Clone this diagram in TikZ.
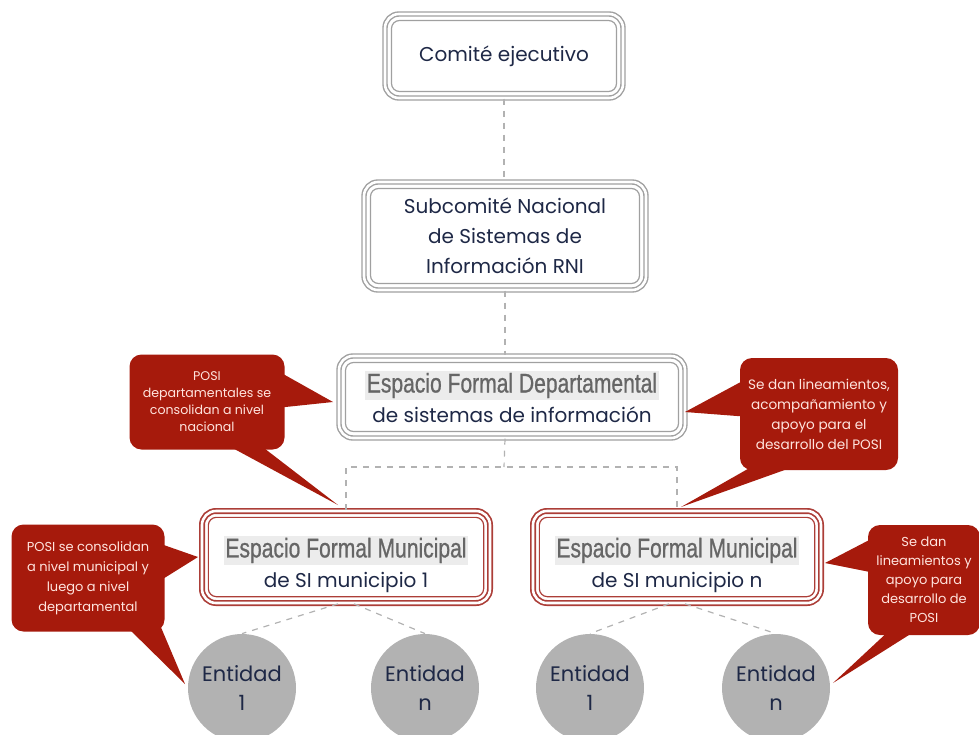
\documentclass[tikz,border=0pt]{standalone}
\usepackage{fontspec}
\setmainfont{Poppins}
\newfontfamily\angosta[FakeStretch=0.78,FakeBold=0.8]{Liberation Sans}
\definecolor{rojo}{RGB}{166,26,12}
\definecolor{rojomarco}{RGB}{172,62,56}
\definecolor{marcogris}{RGB}{160,160,160}
\definecolor{tinta}{RGB}{30,40,70}
\definecolor{textorosa}{RGB}{255,228,222}
\definecolor{grisclaro}{RGB}{236,236,236}
\newcommand{\titulo}[1]{{\setlength{\fboxsep}{0.8pt}\colorbox{grisclaro}{\angosta\fontsize{13.5}{13.5}\selectfont\color{gray!80!black}#1}}}

\begin{document}
\begin{tikzpicture}
[x=0.5pt,y=-0.5pt,
grayBox/.style={draw=marcogris,double=white,double distance=1.3pt,line width=0.7pt,
rounded corners=7pt,align=center,text=tinta,inner sep=0pt,
font=\fontsize{10}{15}\selectfont},
redBox/.style={grayBox,draw=rojomarco,line width=0.85pt},
callOut/.style={fill=rojo,rounded corners=6pt,text=textorosa,align=center,inner sep=0pt},
entBall/.style={circle,fill=gray!60,minimum size=54pt,inner sep=0pt,align=center,
text=tinta,font=\fontsize{10.5}{14.5}\selectfont},
link/.style={draw=gray!60,dashed,line width=0.6pt}]
  \useasboundingbox (0,0) rectangle (979,734);
  % boxes
  \node[grayBox,minimum width=119pt,minimum height=42pt] (comite) at (504,56) {Comité ejecutivo};
  \node[grayBox,minimum width=141pt,minimum height=54pt] (subcomite) at (505,236)
    {Subcomité Nacional\\de Sistemas de\\Información RNI};
  \node[grayBox,minimum width=173pt,minimum height=41pt] (depto) at (512,397)
    {\titulo{Espacio Formal Departamental}\\de sistemas de información};
  \node[redBox,minimum width=144pt,minimum height=46pt] (muniA) at (346,557)
    {\rule{0pt}{18pt}\titulo{Espacio Formal Municipal}\\de SI municipio 1};
  \node[redBox,minimum width=144pt,minimum height=46pt] (muniN) at (677,557)
    {\rule{0pt}{18pt}\titulo{Espacio Formal Municipal}\\de SI municipio n};
  \foreach \n/\c in {comite/marcogris,subcomite/marcogris,depto/marcogris,muniA/rojomarco,muniN/rojomarco}
    \draw[draw=\c,line width=0.6pt,rounded corners=4pt]
      ([xshift=3.6pt,yshift=-3.6pt]\n.north west) rectangle ([xshift=-3.6pt,yshift=3.6pt]\n.south east);
  % entidades
  \node[entBall] (entA1) at (242,688) {Entidad\\1};
  \node[entBall] (entAn) at (425,688) {Entidad\\n};
  \node[entBall] (entN1) at (590,688) {Entidad\\1};
  \node[entBall] (entNn) at (776,688) {Entidad\\n};
  % dashed links
  \coordinate (split) at (504,467);
  \draw[link] (comite.south) -- (comite.south |- subcomite.north);
  \draw[link] (subcomite.south) -- (subcomite.south |- depto.north);
  \draw[link] (subcomite.south |- depto.south) -- (split);
  \draw[link] (muniA.north) |- (split) -| (muniN.north);
  \draw[link] ([xshift=-4pt]muniA.south) -- (entA1.north);
  \draw[link] ([xshift=4pt]muniA.south) -- (entAn.north);
  \draw[link] ([xshift=-4pt]muniN.south) -- (entN1.north);
  \draw[link] ([xshift=4pt]muniN.south) -- (entNn.north);
  % callouts
  \coordinate (tipA) at (333,402);
  \coordinate (tipB) at (338,505);
  \coordinate (tipC) at (685,412);
  \coordinate (tipD) at (681,507);
  \coordinate (tipE) at (198,557);
  \coordinate (tipF) at (185,684);
  \coordinate (tipG) at (825,563);
  \coordinate (tipH) at (833,683);
  \fill[rojo] (276,370) -- (tipA) -- (276,408) -- cycle;
  \fill[rojo] (227,445) -- (tipB) -- (260,445) -- cycle;
  \fill[rojo] (750,377) -- (tipC) -- (750,417) -- cycle;
  \fill[rojo] (760,462) -- (tipD) -- (807,462) -- cycle;
  \fill[rojo] (158,543) -- (tipE) -- (158,582) -- cycle;
  \fill[rojo] (125,625) -- (tipF) -- (160,625) -- cycle;
  \fill[rojo] (875,537) -- (tipG) -- (875,573) -- cycle;
  \fill[rojo] (892,628) -- (tipH) -- (920,628) -- cycle;
  \node[callOut,minimum width=77.5pt,minimum height=47.5pt,font=\fontsize{6.3}{8.5}\selectfont]
    (posiDep) at (207,402) {POSI\\departamentales se\\consolidan a nivel\\nacional};
  \node[callOut,minimum width=79pt,minimum height=56pt,font=\fontsize{6.8}{10}\selectfont]
    (lineaDep) at (819,414) {Se dan lineamientos,\\acompañamiento y\\apoyo para el\\desarrollo del POSI};
  \node[callOut,minimum width=76.5pt,minimum height=53.5pt,font=\fontsize{6.5}{10}\selectfont]
    (posiMun) at (88,578) {POSI se consolidan\\a nivel municipal y\\luego a nivel\\departamental};
  \node[callOut,minimum width=56pt,minimum height=55pt,font=\fontsize{6.5}{9.5}\selectfont]
    (lineaMun) at (924,580) {Se dan\\lineamientos y\\apoyo para\\desarrollo de\\POSI};
\end{tikzpicture}
\end{document}
